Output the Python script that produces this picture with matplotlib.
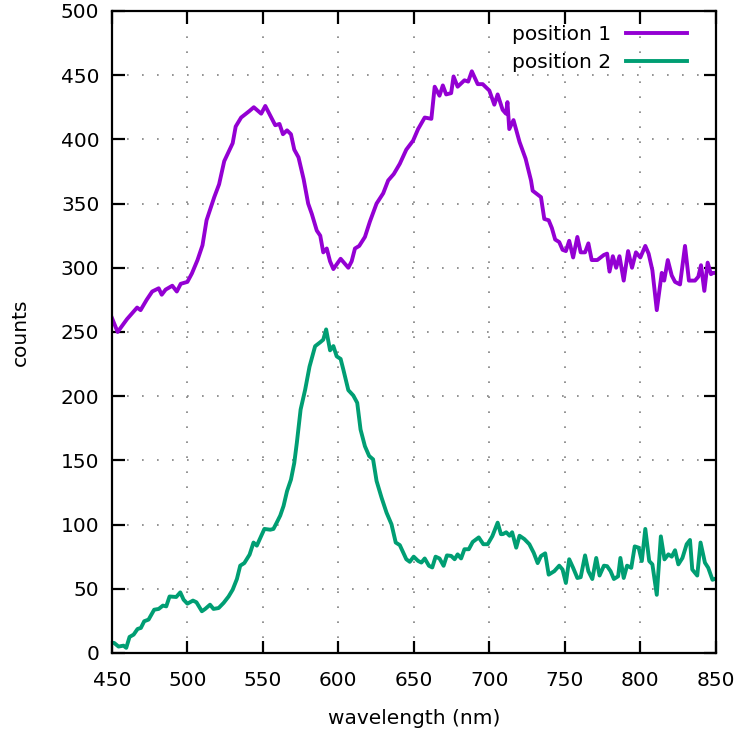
import numpy as np
import matplotlib
matplotlib.use('Agg')
from matplotlib import pyplot as plt

# spectra (wavelength in nm, counts)
wl_1 = [450, 453.8, 460, 466.7, 469, 473, 476.7, 481, 483, 485.6, 490, 493, 495.6,
        500, 503, 506.7, 510, 512.7, 517.8, 521, 524.4, 530, 532, 535.6, 541, 544,
        548.9, 551.6, 555.6, 558.2, 561, 563.3, 566, 568.6, 570.8, 573.6, 577, 580,
        582.4, 585.7, 588, 590, 592.3, 594.5, 596.7, 601.5, 606.6, 608.8, 611, 613.8,
        617.6, 620.9, 625.3, 629.7, 633, 636.7, 640.7, 645, 649.5, 652.8, 657.2,
        661.6, 663.8, 667, 669.2, 671.4, 674.7, 676.3, 679, 683.5, 686, 688.4, 692.3,
        695.6, 700, 703.3, 705.5, 708.8, 711, 712, 713.2, 716, 720, 724, 727.6,
        728.7, 732, 734.2, 736.4, 739.3, 741.4, 743.6, 746.3, 748.5, 750.7, 752.9,
        755.5, 758.3, 760.5, 763.4, 765.6, 767.8, 771.5, 775.9, 778, 779.6, 781.8,
        784, 786.2, 789, 791.9, 794.5, 797.1, 800, 803.3, 805.5, 808, 810.9, 814.2,
        815.8, 818.2, 820.8, 823, 826.3, 829.6, 832.2, 836.2, 838.4, 840.2, 842.4,
        844.6, 846.8, 848.2, 850]
counts_1 = [261, 250, 260, 269, 267, 275, 281.5, 284, 279, 283, 286, 281.5, 287.5,
            289, 295.6, 306, 317.5, 337, 355, 365, 383, 397, 410, 417, 422, 425,
            420, 426, 417, 411, 412, 404, 407, 404, 392, 386, 369, 350, 342, 329,
            325, 312, 315, 305, 299, 307, 300, 305, 315, 317, 324, 336, 350, 358,
            368, 373, 381, 392, 399, 408, 417, 416, 441, 434, 442, 435, 436, 449,
            441, 446, 445, 453, 443, 443, 438, 427, 435, 423, 420, 429, 408, 415,
            398, 385, 368, 360, 357, 355, 338, 337, 331, 322, 320, 314, 313, 321,
            308, 324, 312, 312, 319, 306, 306, 310, 311, 297, 309, 300, 309, 290,
            313, 300, 312, 308, 317, 311, 298, 267, 296, 290, 306, 294, 289, 287,
            317, 290, 290, 293, 302, 282, 304, 295, 296, 296]

wl_2 = [450, 451.5, 454.4, 457.7, 459.5, 461.7, 464.4, 467, 469.2, 471.4, 474.3, 478,
        481, 483.8, 486, 488.2, 492.6, 495.3, 497.5, 500, 503.7, 506, 509.6, 511.8,
        515, 517.3, 520.7, 524, 527.3, 530, 532.8, 535, 537.7, 541.2, 543.8, 546,
        551, 554.9, 557, 559.3, 561.5, 563.7, 566, 568.6, 570.8, 572.5, 575, 578,
        580.9, 584.6, 588, 590, 591.9, 594.5, 596.7, 598.9, 601.5, 603.3, 606.6,
        609.9, 612.5, 614.7, 617.6, 620.4, 623, 625.3, 628.6, 631.9, 635.2, 638,
        640.7, 645, 647.3, 649.9, 652.8, 655, 657.2, 660, 662.2, 664.4, 667, 669.7,
        671.9, 674.7, 677, 679, 681.3, 683.5, 686.4, 689, 693, 696, 698.9, 702,
        705.5, 707.7, 709, 711.2, 713.4, 715.1, 717.8, 720, 723.2, 726.5, 729.4,
        732, 734.2, 737, 739.3, 743, 746.3, 748.5, 750.7, 752.9, 755.5, 758.3,
        760.5, 763.4, 765.6, 768.2, 770.8, 773, 775.9, 778, 780.3, 782.5, 785.3,
        786.8, 789, 791.2, 794, 796.3, 798.9, 801, 803.3, 805.9, 808, 810.9, 813.6,
        816, 818.6, 820.8, 823, 825.2, 827.9, 830.7, 832.9, 834.4, 837.7, 839.9,
        842.8, 845, 847.8, 850]
counts_2 = [8, 7.8, 5, 5.7, 4, 12.5, 14.3, 18.7, 19.5, 24.7, 26, 33.7, 34.3, 36.9,
            36.3, 44, 43.6, 47.2, 41.5, 38.4, 40.8, 39.5, 32.5, 34.3, 37.6, 34.3,
            35, 39, 44, 49.3, 57.6, 68, 70, 76.6, 86, 83.6, 96.6, 96, 96.6, 101.8,
            107, 114.5, 126, 135, 148, 163.7, 189.6, 205, 223, 238.9, 242, 244, 252,
            235.7, 239, 231, 229, 220.7, 204.7, 200.5, 194.8, 174, 161, 153.4,
            150.8, 134, 121, 109.3, 100.2, 86, 84, 73, 71, 75, 71.7, 70.4, 73.6,
            67.9, 66.6, 75, 73.6, 67.9, 76, 75.6, 73, 76.8, 73.6, 80.8, 80.8, 86.5,
            90, 84.7, 84.7, 91, 101.5, 92.5, 92.6, 94, 91.3, 94, 82, 91.3, 88.7,
            84.7, 78, 70, 75.5, 77.6, 61, 63.7, 68, 65, 54.5, 73, 66.3, 58.4, 59,
            76, 63.7, 57.6, 74, 60.3, 68, 67.6, 63.7, 57.6, 59.7, 74, 58.4, 68,
            66.3, 83, 82, 71.6, 96.6, 71.6, 69, 45.3, 90.8, 72.9, 76.8, 75, 80,
            69, 74, 84.7, 88, 65, 60.3, 86, 70.3, 66.3, 57, 58]

labels = ['position 1', 'position 2']
colors = ['#9400d3', '#009e73']

fig = plt.figure(figsize=(7.41, 7.40), dpi=100)
ax = fig.add_axes([0.151, 0.1176, 0.815, 0.8676])

ax.plot(wl_1, counts_1, color=colors[0], lw=2.8, label=labels[0])
ax.plot(wl_2, counts_2, color=colors[1], lw=2.8, label=labels[1])

ax.set_xlim(450, 850)
ax.set_ylim(0, 500)
ax.set_xticks(np.arange(450, 851, 50))
ax.set_yticks(np.arange(0, 501, 50))
ax.grid(True, color='#808080', linestyle=(0, (1, 8)), linewidth=1.2)
ax.tick_params(direction='in', length=9, width=1.6, labelsize=14.5,
               top=True, right=True)
ax.tick_params(axis='x', pad=13)
ax.tick_params(axis='y', pad=9)
for s in ax.spines.values():
    s.set_linewidth(1.6)

ax.set_xlabel('wavelength (nm)', fontsize=14.5, labelpad=14)
ax.set_ylabel('counts', fontsize=14.5, labelpad=22)

leg = ax.legend(loc='upper right', frameon=False, markerfirst=False, fontsize=14.5,
                handlelength=3.0, handletextpad=0.75, borderaxespad=0.0,
                labelspacing=0.45, bbox_to_anchor=(0.965, 0.99))

fig.savefig('out.png', dpi=100)
